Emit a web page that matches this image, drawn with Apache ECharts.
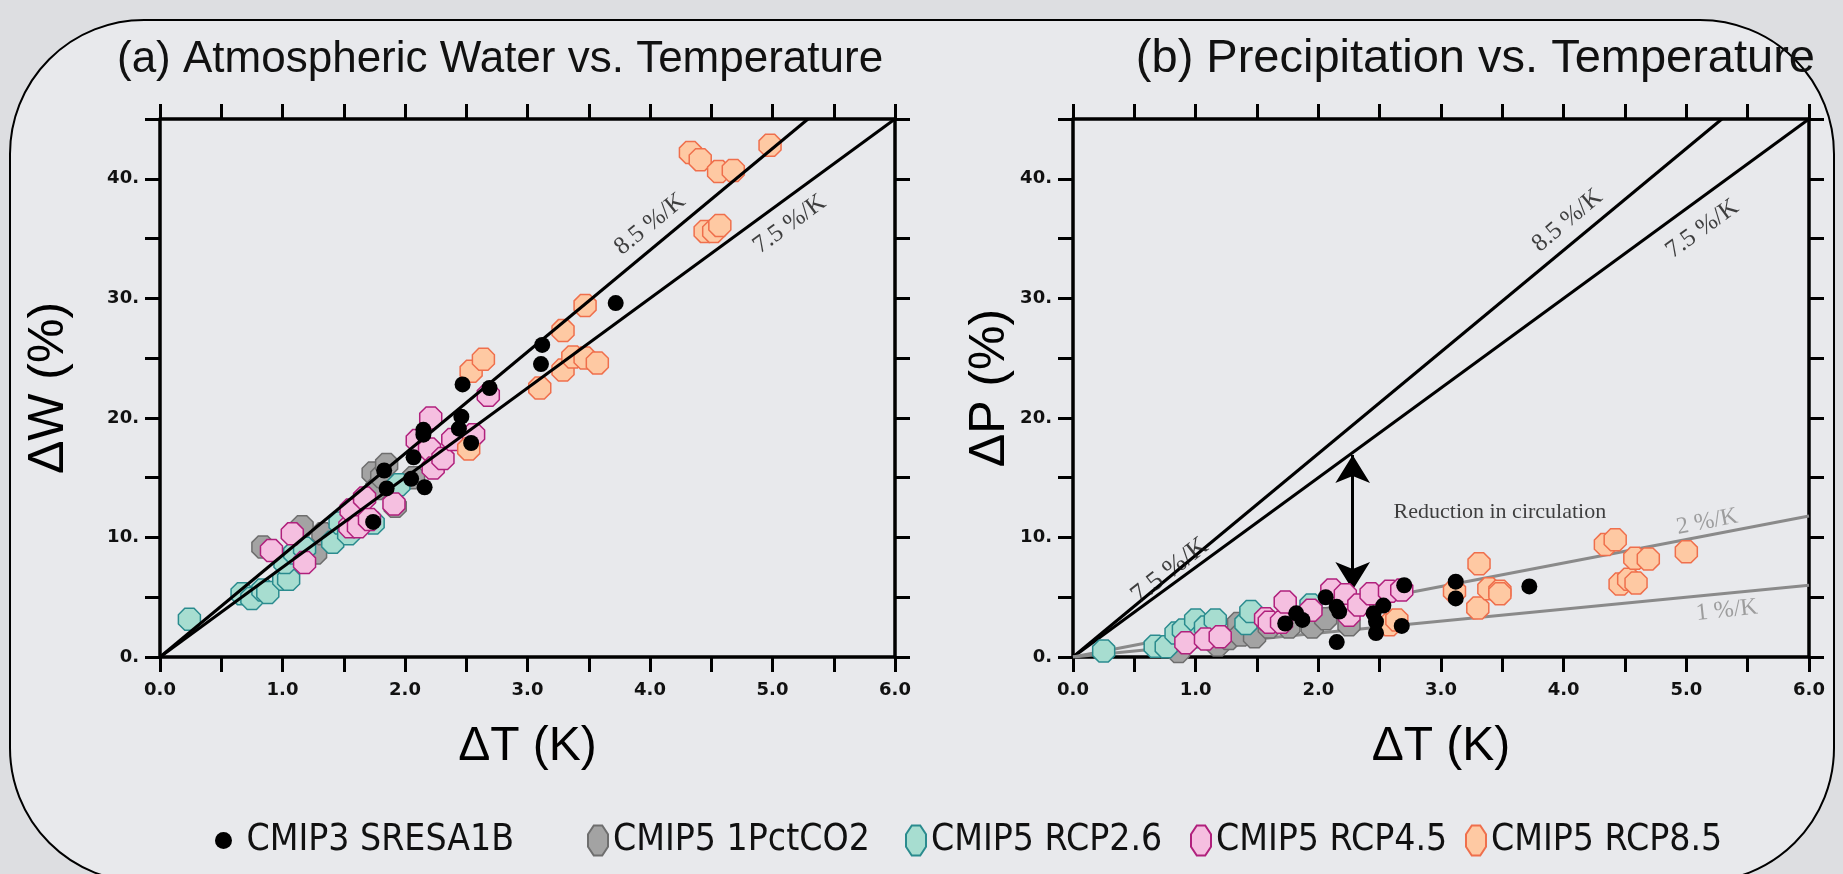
<!DOCTYPE html>
<html>
<head>
<meta charset="utf-8">
<title>Water and precipitation vs. temperature</title>
<script src="https://cdn.jsdelivr.net/npm/echarts@6.0.0/dist/echarts.min.js"></script>
<style>
html, body { margin: 0; padding: 0; overflow: hidden; background: #dddee1; }
#frame {
	position: absolute; left: 9px; top: 19px; width: 1822px; height: 860px;
	border: 2px solid #000; border-radius: 135px; background: #e8e9ec;
}
#main { position: absolute; left: 0; top: 0; width: 1843px; height: 874px; }
</style>
</head>
<body>
<div id="frame"></div>
<div id="main"></div>
<script>
// 数据：[ΔT (K), ΔW 或 ΔP (%)]
// (a) 大气水汽
var cmip3W = [[1.74, 11.3], [1.83, 15.6], [1.85, 14.1], [2.05, 14.9], [2.07, 16.7], [2.15, 19.0], [2.15, 18.6], [2.16, 14.2],
	[2.44, 19.1], [2.46, 20.1], [2.47, 22.8], [2.54, 17.9], [2.69, 22.5], [3.11, 24.5], [3.12, 26.1], [3.72, 29.6]];
var pctW = [[0.84, 9.2], [1.16, 10.9], [1.27, 8.7], [1.33, 10.3], [1.61, 11.7], [1.74, 15.4], [1.77, 14.1], [1.81, 15.1],
	[1.85, 16.1], [1.92, 12.6], [2.07, 15.0]];
var rcp26W = [[0.24, 3.15], [0.67, 5.3], [0.75, 4.9], [0.84, 5.6], [0.88, 5.4], [1.01, 6.5], [1.05, 6.5], [1.02, 7.9],
	[1.10, 8.7], [1.18, 9.1], [1.41, 9.6], [1.47, 11.2], [1.54, 10.3], [1.74, 11.2], [1.95, 14.4]];
var rcp45W = [[0.91, 8.9], [1.08, 10.3], [1.18, 7.9], [1.55, 10.9], [1.56, 12.3], [1.62, 10.9], [1.67, 13.3], [1.71, 11.5],
	[1.91, 12.8], [2.10, 18.1], [2.21, 20.0], [2.20, 17.4], [2.23, 15.8], [2.31, 16.6], [2.39, 18.2], [2.56, 18.6], [2.68, 21.9]];
var rcp85W = [[2.52, 17.4], [2.54, 23.9], [2.64, 24.9], [3.10, 22.5], [3.29, 24.0], [3.29, 27.3], [3.37, 25.1], [3.47, 25.0],
	[3.47, 29.4], [3.57, 24.6], [4.33, 42.2], [4.41, 41.6], [4.45, 35.6], [4.52, 35.6], [4.56, 40.6], [4.57, 36.1],
	[4.68, 40.7], [4.98, 42.8]];

// (b) 降水
var cmip3P = [[1.73, 2.8], [1.82, 3.65], [1.87, 3.1], [2.06, 5.0], [2.15, 4.2], [2.17, 3.8], [2.15, 1.25], [2.45, 3.65],
	[2.47, 2.95], [2.47, 2.0], [2.53, 4.3], [2.68, 2.6], [2.70, 6.0], [3.12, 6.3], [3.12, 4.9], [3.72, 5.9]];
var pctP = [[0.86, 0.45], [1.18, 1.0], [1.27, 1.55], [1.35, 2.8], [1.37, 1.84], [1.48, 1.7], [1.60, 2.5], [1.76, 2.5],
	[1.95, 2.5], [2.06, 3.2], [2.25, 2.7]];
var rcp26P = [[0.25, 0.5], [0.67, 0.9], [0.76, 0.86], [0.84, 2.0], [0.90, 2.26], [1.00, 3.1], [1.04, 1.7], [1.08, 2.5],
	[1.16, 3.1], [1.41, 2.8], [1.45, 3.8], [1.94, 4.35]];
var rcp45P = [[0.92, 1.2], [1.08, 1.5], [1.20, 1.7], [1.57, 3.2], [1.60, 2.9], [1.70, 2.9], [1.73, 4.6], [1.94, 3.9],
	[2.11, 5.6], [2.22, 5.2], [2.25, 3.5], [2.33, 4.35], [2.43, 5.3], [2.58, 5.5], [2.68, 5.6]];
var rcp85P = [[2.58, 2.7], [2.64, 3.1], [3.11, 5.5], [3.30, 4.1], [3.31, 7.8], [3.39, 5.7], [3.48, 5.5], [3.48, 5.3],
	[4.34, 9.4], [4.42, 9.8], [4.46, 6.1], [4.53, 6.5], [4.58, 8.25], [4.59, 6.2], [4.69, 8.2], [5.00, 8.8]];

// 参考线（端点）
var line75 = [[0, 0], [6, 45]];
var line85 = [[0, 0], [5.29, 45]];
var line2 = [[0, 0], [6, 11.8]];
var line1 = [[0, 0], [6, 6]];
var circArrow = [[2.28, 16.9], [2.28, 5.6]];

var scenarioNames = ['CMIP3 SRESA1B', 'CMIP5 1PctCO2', 'CMIP5 RCP2.6', 'CMIP5 RCP4.5', 'CMIP5 RCP8.5'];

var SANS = "'Liberation Sans', Arial, sans-serif";
var TICK = "'DejaVu Sans', sans-serif";
var NARROW = "'DejaVu Sans Condensed', 'Liberation Sans Narrow', sans-serif";
var SERIF = "'Liberation Serif', 'Times New Roman', serif";
var OCT = 'path://M29,0 L71,0 L100,29 L100,71 L71,100 L29,100 L0,71 L0,29 Z';

var styles = {
	'CMIP5 1PctCO2': { fill: '#a3a3a3', stroke: '#6e6e6e' },
	'CMIP5 RCP2.6': { fill: '#a7ddd0', stroke: '#2a8b8e' },
	'CMIP5 RCP4.5': { fill: '#f5bfe0', stroke: '#b0207c' },
	'CMIP5 RCP8.5': { fill: '#fec9a3', stroke: '#ef6f4c' }
};

function octs(name, data, ax, z) {
	return {
		type: 'scatter', name: name, xAxisIndex: ax, yAxisIndex: ax, data: data,
		symbol: OCT, symbolSize: 22, z: z,
		itemStyle: { color: styles[name].fill, borderColor: styles[name].stroke, borderWidth: 1.5, opacity: 1 }
	};
}
function dots(data, ax) {
	return {
		type: 'scatter', name: 'CMIP3 SRESA1B', xAxisIndex: ax, yAxisIndex: ax, data: data,
		symbol: 'circle', symbolSize: 16, z: 8, itemStyle: { color: '#000', opacity: 1 }
	};
}
function refLine(data, ax, color, z) {
	return {
		type: 'line', xAxisIndex: ax, yAxisIndex: ax, data: data, showSymbol: false, silent: true, z: z,
		lineStyle: { color: color, width: 3 }
	};
}
function note(text, pos, ax, rot, color, size) {
	return {
		type: 'scatter', xAxisIndex: ax, yAxisIndex: ax, data: [pos], symbolSize: 1, silent: true, z: 9,
		itemStyle: { color: 'rgba(0,0,0,0)' },
		label: { show: true, position: 'inside', formatter: text, rotate: rot, color: color, fontFamily: SERIF, fontSize: size }
	};
}

function xAx(grid, pos, show) {
	return {
		type: 'value', gridIndex: grid, position: pos, min: 0, max: 6, interval: 0.5,
		name: show ? 'ΔT (K)' : '', nameLocation: 'middle', nameGap: 66,
		nameTextStyle: { fontFamily: SANS, fontSize: 48, color: '#000' },
		axisLine: { onZero: false, lineStyle: { color: '#000', width: 3.5 } },
		axisTick: { length: 15, lineStyle: { color: '#000', width: 3 } },
		splitLine: { show: false },
		axisLabel: {
			show: show, margin: 24, fontFamily: TICK, fontSize: 18, fontWeight: 'bold', color: '#111',
			formatter: function (v) { return Math.abs(v % 1) < 1e-6 ? v.toFixed(1) : ''; }
		}
	};
}
function yAx(grid, pos, name, gap) {
	var show = !!name;
	return {
		type: 'value', gridIndex: grid, position: pos, min: 0, max: 45, interval: 5,
		name: name || '', nameLocation: 'middle', nameGap: gap,
		nameTextStyle: { fontFamily: SANS, fontSize: 50, color: '#000' },
		axisLine: { onZero: false, lineStyle: { color: '#000', width: 3.5 } },
		axisTick: { length: 15, lineStyle: { color: '#000', width: 3 } },
		splitLine: { show: false },
		axisLabel: {
			show: show, margin: 21, fontFamily: TICK, fontSize: 18, fontWeight: 'bold', color: '#111',
			formatter: function (v) { return v % 10 === 0 ? v + '.' : ''; }
		}
	};
}

// 每个图例单独放置
function legendItem(name, left, icon, w, h) {
	return {
		left: left, top: 817, itemWidth: w, itemHeight: h, itemGap: 0, selectedMode: false,
		symbolKeepAspect: false,
		textStyle: { fontFamily: NARROW, fontSize: 37, color: '#111' },
		data: [{ name: name, icon: icon }]
	};
}

var chart = echarts.init(document.getElementById('main'));
var option = {
	backgroundColor: 'transparent',
	animation: false,
	title: [
		{ text: '(a) Atmospheric Water vs. Temperature', left: 112, top: 33,
			textStyle: { fontFamily: SANS, fontSize: 44, fontWeight: 'normal', color: '#111' } },
		{ text: '(b) Precipitation vs. Temperature', right: 23, top: 31,
			textStyle: { fontFamily: SANS, fontSize: 47, fontWeight: 'normal', color: '#111' } }
	],
	grid: [
		{ left: 160, top: 119, width: 735, height: 538 },
		{ left: 1073, top: 119, width: 736, height: 538 }
	],
	xAxis: [xAx(0, 'bottom', true), xAx(1, 'bottom', true), xAx(0, 'top', false), xAx(1, 'top', false)],
	yAxis: [yAx(0, 'left', 'ΔW (%)', 86), yAx(1, 'left', 'ΔP (%)', 58), yAx(0, 'right'), yAx(1, 'right')],
	legend: [
		legendItem(scenarioNames[0], 210, 'circle', 36, 17),
		legendItem(scenarioNames[1], 582, OCT, 20, 30),
		legendItem(scenarioNames[2], 900, OCT, 20, 30),
		legendItem(scenarioNames[3], 1185, OCT, 20, 30),
		legendItem(scenarioNames[4], 1460, OCT, 20, 30)
	],
	series: [
		// (a)
		octs(scenarioNames[1], pctW, 0, 3),
		octs(scenarioNames[2], rcp26W, 0, 4),
		octs(scenarioNames[3], rcp45W, 0, 5),
		octs(scenarioNames[4], rcp85W, 0, 6),
		refLine(line85, 0, '#000', 7),
		refLine(line75, 0, '#000', 7),
		dots(cmip3W, 0),
		note('8.5 %/K', [4.0, 36.2], 0, 39, '#111', 25),
		note('7.5 %/K', [5.14, 36.2], 0, 36, '#111', 25),
		// (b)
		refLine(line85, 1, '#000', 2),
		refLine(line75, 1, '#000', 2),
		refLine(line2, 1, '#8a8a8a', 2),
		refLine(line1, 1, '#8a8a8a', 2),
		{
			type: 'line', xAxisIndex: 1, yAxisIndex: 1, data: [], silent: true,
			markLine: {
				silent: true, symbol: ['arrow', 'arrow'], symbolSize: [26, 28],
				lineStyle: { color: '#000', width: 3, type: 'solid' },
				label: { show: false },
				data: [[{ coord: circArrow[0] }, { coord: circArrow[1] }]]
			}
		},
		octs(scenarioNames[1], pctP, 1, 3),
		octs(scenarioNames[2], rcp26P, 1, 4),
		octs(scenarioNames[3], rcp45P, 1, 5),
		octs(scenarioNames[4], rcp85P, 1, 6),
		dots(cmip3P, 1),
		note('8.5 %/K', [4.03, 36.5], 1, 40, '#111', 25),
		note('7.5 %/K', [5.13, 35.8], 1, 36, '#111', 25),
		note('7.5 %/K', [0.79, 7.2], 1, 38, '#111', 27),
		note('Reduction in circulation', [3.48, 12.1], 1, 0, '#111', 22),
		note('2 %/K', [5.17, 11.3], 1, 11, '#8a8a8a', 24),
		note('1 %/K', [5.33, 3.9], 1, 6, '#8a8a8a', 24)
	]
};
chart.setOption(option);
</script>
</body>
</html>
